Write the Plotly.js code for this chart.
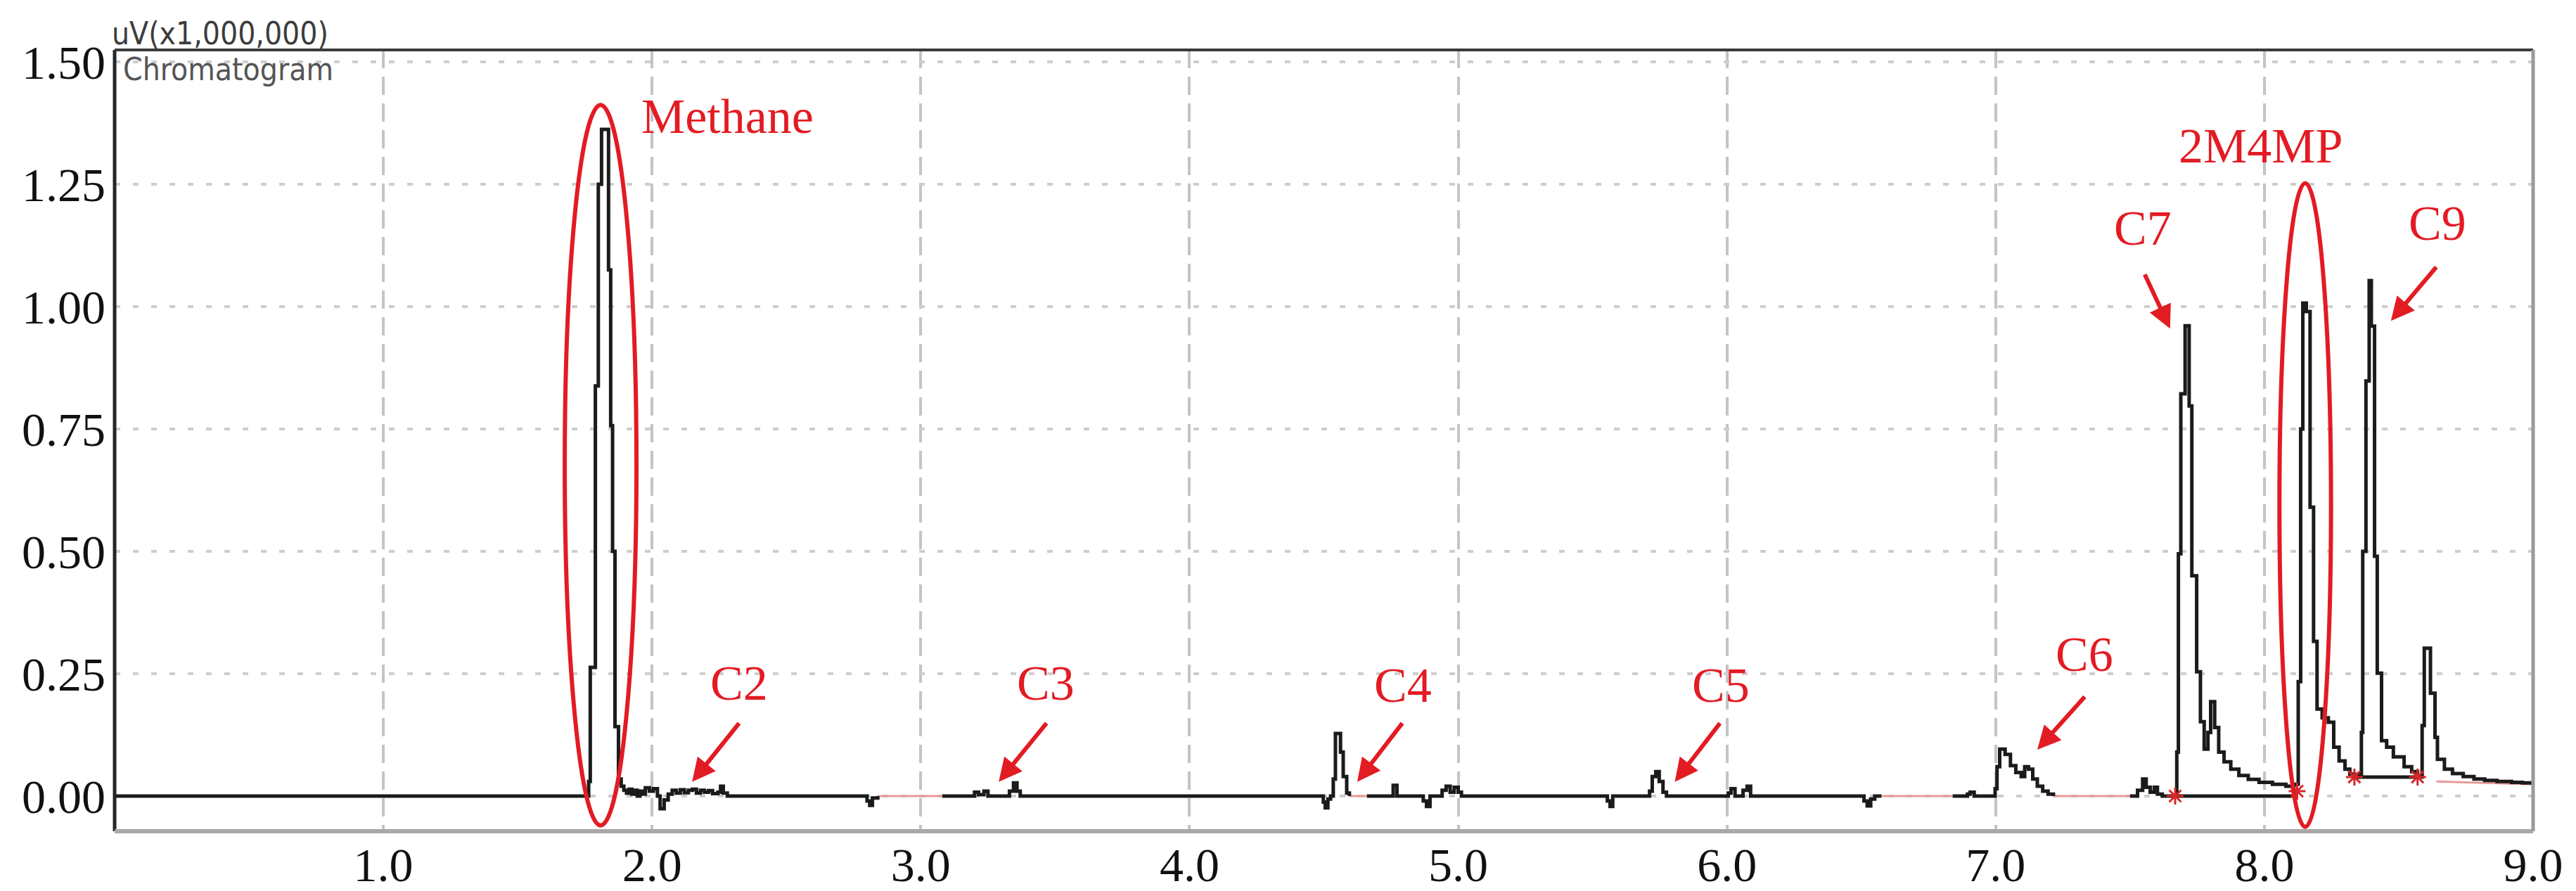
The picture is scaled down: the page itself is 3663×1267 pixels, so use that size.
<!DOCTYPE html>
<html>
<head>
<meta charset="utf-8">
<script src="https://cdn.plot.ly/plotly-3.0.1.min.js"></script>
<style>
  html, body { margin: 0; padding: 0; background: #fff; }
  #plot { width: 3663px; height: 1267px; }
</style>
</head>
<body>
<div id="plot"></div>
<script>
// chromatogram, read off the picture region by region (time in min, signal in uV x 1,000,000)
// null = break in the black trace (the instrument draws a pink baseline there)
const methaneT = [0.00, 1.760, 1.764, 1.770, 1.789, 1.800, 1.812, 1.838, 1.846, 1.853, 1.862, 1.875, 1.885, 1.895, 1.905, 1.915, 1.925, 1.935, 1.945, 1.955, 1.965];
const methaneY = [0, 0, 0.03, 0.263, 0.838, 1.25, 1.362, 1.075, 0.757, 0.50, 0.142, 0.035, 0.02, 0.012, 0.006, 0.014, 0.004, 0.012, 0.0, 0.01, 0.004];

const c2T = [1.975, 1.990, 2.005, 2.020, 2.030, 2.045, 2.060, 2.075, 2.090, 2.105, 2.120, 2.135, 2.150, 2.165, 2.180, 2.195, 2.210, 2.225, 2.245, 2.255, 2.265, 2.280];
const c2Y = [0.017, 0.010, 0.015, 0.0, -0.026, -0.008, 0.004, 0.012, 0.006, 0.013, 0.007, 0.012, 0.014, 0.006, 0.012, 0.008, 0.011, 0.005, 0.008, 0.020, 0.006, 0.0];

const c3T = [2.790, 2.800, 2.810, 2.820, 2.840, 2.845, 3.080, 3.195, 3.200, 3.215, 3.235, 3.250, 3.330, 3.345, 3.358, 3.370];
const c3Y = [0.0, -0.010, -0.019, -0.004, 0.0, null, 0.0, 0.0, 0.008, 0.003, 0.010, 0.0, 0.010, 0.027, 0.010, 0.0];

const c4T = [4.490, 4.498, 4.505, 4.515, 4.525, 4.535, 4.543, 4.562, 4.572, 4.585, 4.595, 4.600, 4.660, 4.750, 4.758, 4.772, 4.870, 4.882, 4.895, 4.940, 4.955, 4.970, 4.985, 5.000, 5.012];
const c4Y = [0.0, -0.012, -0.024, -0.006, 0.0, 0.035, 0.128, 0.090, 0.040, 0.006, 0.0, null, 0.0, 0.0, 0.022, 0.0, -0.010, -0.021, 0.0, 0.012, 0.020, 0.008, 0.018, 0.008, 0.0];

const c5T = [5.555, 5.565, 5.575, 5.712, 5.722, 5.735, 5.748, 5.762, 5.775, 6.005, 6.015, 6.030, 6.060, 6.075, 6.088];
const c5Y = [-0.010, -0.021, 0.0, 0.010, 0.040, 0.050, 0.030, 0.008, 0.0, 0.006, 0.015, 0.0, 0.012, 0.020, 0.0];

const c6T = [6.510, 6.522, 6.535, 6.550, 6.575, 6.580, 6.840, 6.895, 6.905, 6.920, 6.998, 7.005, 7.015, 7.035, 7.055, 7.075, 7.095, 7.108, 7.122, 7.138, 7.155, 7.175, 7.195, 7.215, 7.220];
const c6Y = [-0.010, -0.020, -0.006, 0.0, 0.0, null, 0.0, 0.004, 0.008, 0.0, 0.015, 0.060, 0.096, 0.085, 0.062, 0.048, 0.040, 0.060, 0.055, 0.035, 0.020, 0.010, 0.004, 0.0, null];

const c7T = [7.500, 7.528, 7.547, 7.560, 7.575, 7.590, 7.602, 7.620, 7.668, 7.674, 7.680, 7.689, 7.705, 7.720, 7.730, 7.748, 7.762, 7.776, 7.790, 7.800, 7.815, 7.830, 7.850, 7.875, 7.905, 7.940, 7.980, 8.030, 8.080, 8.110];
const c7Y = [0.0, 0.012, 0.035, 0.018, 0.008, 0.018, 0.004, 0.0, 0.0, 0.090, 0.495, 0.822, 0.961, 0.797, 0.450, 0.254, 0.152, 0.096, 0.130, 0.193, 0.140, 0.090, 0.070, 0.055, 0.042, 0.034, 0.028, 0.024, 0.020, 0.024];

// 2M4MP, C9 and the last small peak
const lateT = [8.126, 8.135, 8.143, 8.156, 8.170, 8.183, 8.196, 8.215, 8.238, 8.258, 8.278, 8.300, 8.318, 8.335, 8.350, 8.361, 8.366, 8.378, 8.390, 8.398, 8.410, 8.420, 8.436, 8.455, 8.480, 8.520, 8.548, 8.570, 8.587, 8.595, 8.618, 8.635, 8.644, 8.670, 8.700, 8.740, 8.780, 8.820, 8.866, 8.920, 8.960, 9.000];
const lateY = [0.234, 0.750, 1.007, 0.990, 0.590, 0.316, 0.178, 0.160, 0.151, 0.100, 0.072, 0.055, 0.045, 0.039, 0.045, 0.130, 0.500, 0.848, 1.053, 0.960, 0.490, 0.251, 0.113, 0.100, 0.080, 0.060, 0.050, 0.039, 0.144, 0.302, 0.210, 0.120, 0.075, 0.055, 0.046, 0.040, 0.035, 0.032, 0.030, 0.028, 0.027, 0.026];

// integration baselines and peak start/end marks
const intBaseT = [7.668, 8.120, null, 8.335, 8.570];
const intBaseY = [0, 0, null, 0.039, 0.039];
const pinkT = [2.84, 3.08, null, 4.595, 4.66, null, 6.575, 6.84, null, 7.215, 7.50, null, 8.64, 9.0];
const pinkY = [0, 0, null, 0, 0, null, 0, 0, null, 0, 0, null, 0.030, 0.024];
const peakMarkT = [7.668, 8.122, 8.335, 8.570];
const peakMarkY = [0.0, 0.010, 0.039, 0.039];

// axis ticks
const xTicks = [1, 2, 3, 4, 5, 6, 7, 8, 9];
const xTickText = ['1.0', '2.0', '3.0', '4.0', '5.0', '6.0', '7.0', '8.0', '9.0'];
const yTicks = [0, 0.25, 0.5, 0.75, 1.0, 1.25, 1.5];
const yTickText = ['0.00', '0.25', '0.50', '0.75', '1.00', '1.25', '1.50'];

// peak labels
const labelText = ['Methane', 'C2', 'C3', 'C4', 'C5', 'C6', 'C7', '2M4MP', 'C9'];
const labelX = [2.28, 2.323, 3.465, 4.795, 5.977, 7.33, 7.547, 7.987, 8.643];
const labelY = [1.389, 0.23, 0.23, 0.226, 0.226, 0.29, 1.16, 1.329, 1.17];

// arrows: head (x, y) and tail (x, y)
const arrowHeadX = [2.149, 3.29, 4.624, 5.806, 7.155, 7.649, 8.471];
const arrowHeadY = [0.029, 0.029, 0.029, 0.029, 0.095, 0.955, 0.971];
const arrowTailX = [2.327, 3.471, 4.795, 5.977, 7.335, 7.553, 8.643];
const arrowTailY = [0.151, 0.151, 0.151, 0.151, 0.205, 1.068, 1.083];

const RED = '#e31b23';
const SERIF = 'Liberation Serif, Times New Roman, serif';

const timeMin = [].concat(methaneT, c2T, c3T, c4T, c5T, c6T, c7T, lateT);
const signal = [].concat(methaneY, c2Y, c3Y, c4Y, c5Y, c6Y, c7Y, lateY);

const traces = [
  {
    x: pinkT, y: pinkY, type: 'scatter', mode: 'lines',
    line: { color: '#e79a9a', width: 3 }, connectgaps: false, hoverinfo: 'skip'
  },
  {
    x: timeMin, y: signal, type: 'scatter', mode: 'lines',
    line: { color: '#1b1b1b', width: 5, shape: 'hv' }, connectgaps: false
  },
  {
    x: intBaseT, y: intBaseY, type: 'scatter', mode: 'lines',
    line: { color: '#1b1b1b', width: 5 }, connectgaps: false, hoverinfo: 'skip'
  },
  {
    x: peakMarkT, y: peakMarkY, type: 'scatter', mode: 'markers',
    marker: { symbol: 'asterisk-open', size: 20, line: { color: '#b4232a', width: 3 } }
  }
];

const annotations = [];
for (let i = 0; i < labelText.length; i++) {
  annotations.push({
    x: labelX[i], y: labelY[i], xref: 'x', yref: 'y',
    text: labelText[i], showarrow: false,
    font: { family: SERIF, size: 70, color: RED }
  });
}
for (let i = 0; i < arrowHeadX.length; i++) {
  annotations.push({
    x: arrowHeadX[i], y: arrowHeadY[i], ax: arrowTailX[i], ay: arrowTailY[i],
    xref: 'x', yref: 'y', axref: 'x', ayref: 'y',
    text: '', showarrow: true, arrowhead: 2, arrowsize: 1.1, arrowwidth: 6,
    arrowcolor: RED, standoff: 0, startstandoff: 0
  });
}
// instrument captions in the corner
annotations.push({
  x: 0, y: 1, xref: 'paper', yref: 'paper', xanchor: 'left', yanchor: 'bottom',
  xshift: -6, yshift: -4, text: 'uV(x1,000,000)', showarrow: false,
  font: { family: 'DejaVu Sans Condensed, Liberation Sans Narrow, sans-serif', size: 44, color: '#3c3c3c' }
});
annotations.push({
  x: 0, y: 1, xref: 'paper', yref: 'paper', xanchor: 'left', yanchor: 'top',
  xshift: 10, yshift: 0, text: 'Chromatogram', showarrow: false,
  font: { family: 'DejaVu Sans Condensed, Liberation Sans Narrow, sans-serif', size: 44, color: '#555' }
});

const layout = {
  width: 3663,
  height: 1267,
  paper_bgcolor: '#fff',
  plot_bgcolor: '#fff',
  showlegend: false,
  margin: { l: 163, r: 61, t: 71, b: 85 },
  xaxis: {
    range: [0, 9],
    tickvals: xTicks, ticktext: xTickText,
    ticks: '', showline: false, zeroline: false,
    showgrid: true, gridcolor: '#c4c4c4', gridwidth: 4, griddash: '26px,12px',
    tickfont: { family: SERIF, size: 68, color: '#111' },
    ticklabelstandoff: 2
  },
  yaxis: {
    range: [-0.0718, 1.5244],
    tickvals: yTicks, ticktext: yTickText,
    ticks: '', showline: false, zeroline: false,
    showgrid: true, gridcolor: '#cdcdcd', gridwidth: 4, griddash: '8px,18px',
    tickfont: { family: SERIF, size: 68, color: '#111' },
    ticklabelstandoff: 12
  },
  shapes: [
    // ellipses round methane and 2M4MP
    { type: 'circle', xref: 'x', yref: 'y', x0: 1.675, x1: 1.942, y0: -0.060, y1: 1.412, line: { color: RED, width: 6 } },
    { type: 'circle', xref: 'x', yref: 'y', x0: 8.056, x1: 8.248, y0: -0.063, y1: 1.252, line: { color: RED, width: 6 } },
    // frame of the instrument plot
    { type: 'line', xref: 'paper', yref: 'paper', x0: 0, x1: 0, y0: 0, y1: 1, line: { color: '#262626', width: 5 } },
    { type: 'line', xref: 'paper', yref: 'paper', x0: 0, x1: 1, y0: 1, y1: 1, line: { color: '#3a3a3a', width: 4 } },
    { type: 'line', xref: 'paper', yref: 'paper', x0: 0, x1: 1, y0: 0, y1: 0, line: { color: '#a8a8a8', width: 6 } },
    { type: 'line', xref: 'paper', yref: 'paper', x0: 1, x1: 1, y0: 0, y1: 1, line: { color: '#9a9a9a', width: 5 } }
  ],
  annotations: annotations
};

Plotly.newPlot('plot', traces, layout, { staticPlot: true });
</script>
</body>
</html>
